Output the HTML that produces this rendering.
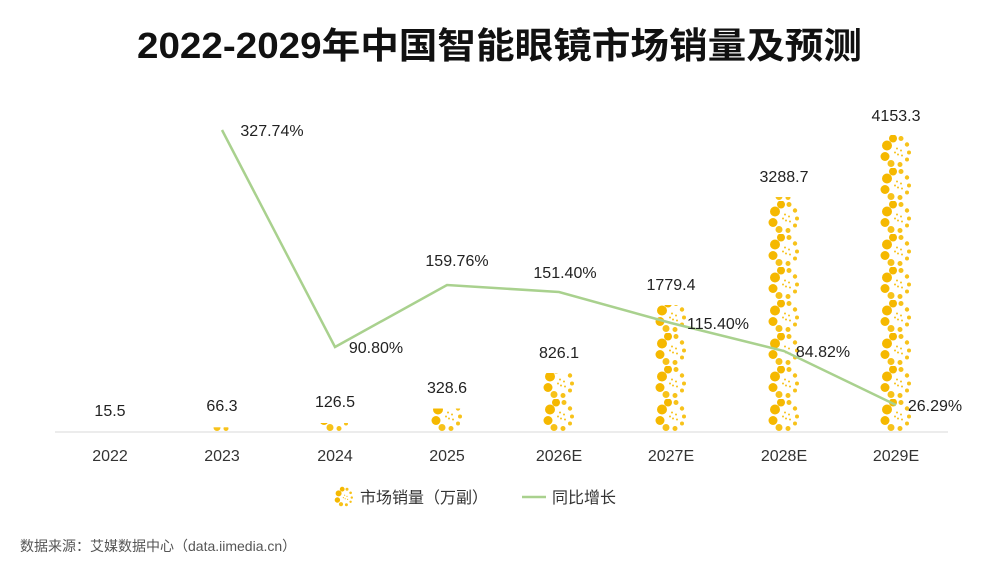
<!DOCTYPE html>
<html><head><meta charset="utf-8"><style>
body{margin:0;background:#fff;width:1000px;height:564px;overflow:hidden;font-family:"Liberation Sans","Noto Sans CJK SC",sans-serif;}
</style></head><body>
<svg width="1000" height="564" xmlns="http://www.w3.org/2000/svg" font-family="Liberation Sans, Noto Sans CJK SC, sans-serif">
<defs>
<g id="ring">
<circle cx="-9" cy="-6" r="5" fill="#f5b800"/>
<circle cx="-11" cy="5" r="4.5" fill="#f5b800"/>
<circle cx="-3" cy="-13" r="4" fill="#f5b800"/>
<circle cx="-5" cy="12" r="3.5" fill="#f7c21a"/>
<circle cx="5" cy="-13" r="2.5" fill="#f7c21a"/>
<circle cx="11" cy="-7" r="2.2" fill="#f7c21a"/>
<circle cx="13" cy="1" r="2" fill="#f7c21a"/>
<circle cx="11" cy="8" r="2" fill="#f7c21a"/>
<circle cx="4" cy="13" r="2.5" fill="#f7c21a"/>
<circle cx="1" cy="-3" r="1" fill="#f7c21a"/>
<circle cx="5" cy="-1" r="1" fill="#f7c21a"/>
<circle cx="2" cy="3" r="1" fill="#f7c21a"/>
<circle cx="6" cy="4" r="1" fill="#f7c21a"/>
<circle cx="-1" cy="1" r="1" fill="#f7c21a"/>
</g>
<pattern id="pat" patternUnits="userSpaceOnUse" width="40" height="33" x="0" y="432">
<use href="#ring" x="20" y="16.5"/>
</pattern>
</defs>
<text x="137" y="58" textLength="725" lengthAdjust="spacingAndGlyphs" font-size="36" font-weight="bold" fill="#111">2022-2029年中国智能眼镜市场销量及预测</text>
<line x1="55" y1="432" x2="948" y2="432" stroke="#d9d9d9" stroke-width="1"/>
<g>
<g transform="translate(202,0)"><rect x="0" y="427.3" width="40" height="4.7" fill="url(#pat)"/></g>
<g transform="translate(315,0)"><rect x="0" y="423" width="40" height="9" fill="url(#pat)"/></g>
<g transform="translate(427,0)"><rect x="0" y="408.5" width="40" height="23.5" fill="url(#pat)"/></g>
<g transform="translate(539,0)"><rect x="0" y="373" width="40" height="59" fill="url(#pat)"/></g>
<g transform="translate(651,0)"><rect x="0" y="305" width="40" height="127" fill="url(#pat)"/></g>
<g transform="translate(764,0)"><rect x="0" y="197" width="40" height="235" fill="url(#pat)"/></g>
<g transform="translate(876,0)"><rect x="0" y="135" width="40" height="297" fill="url(#pat)"/></g>
</g>
<polyline points="222,130 335,347 447,285 559,292 671,323 784,351 896,405" fill="none" stroke="#a9d18e" stroke-width="2.5"/>
<g font-size="16" fill="#222" text-anchor="middle">
<text x="110" y="416">15.5</text>
<text x="222" y="411">66.3</text>
<text x="335" y="407">126.5</text>
<text x="447" y="393">328.6</text>
<text x="559" y="358">826.1</text>
<text x="671" y="290">1779.4</text>
<text x="784" y="182">3288.7</text>
<text x="896" y="121">4153.3</text>
<text x="272" y="136">327.74%</text>
<text x="376" y="353">90.80%</text>
<text x="457" y="266">159.76%</text>
<text x="565" y="278">151.40%</text>
<text x="718" y="329">115.40%</text>
<text x="823" y="357">84.82%</text>
<text x="935" y="411">26.29%</text>
</g>
<g font-size="16" fill="#333" text-anchor="middle">
<text x="110" y="461">2022</text><text x="222" y="461">2023</text><text x="335" y="461">2024</text><text x="447" y="461">2025</text>
<text x="559" y="461">2026E</text><text x="671" y="461">2027E</text><text x="784" y="461">2028E</text><text x="896" y="461">2029E</text>
</g>
<g transform="translate(344,497) scale(0.6)"><use href="#ring"/></g>
<text x="360" y="503" font-size="16" fill="#333">市场销量（万副）</text>
<line x1="522" y1="497" x2="546" y2="497" stroke="#a9d18e" stroke-width="2.5"/>
<text x="552" y="503" font-size="16" fill="#333">同比增长</text>
<text x="20" y="551" font-size="14" fill="#555">数据来源：艾媒数据中心（data.iimedia.cn）</text>
</svg>
</body></html>
